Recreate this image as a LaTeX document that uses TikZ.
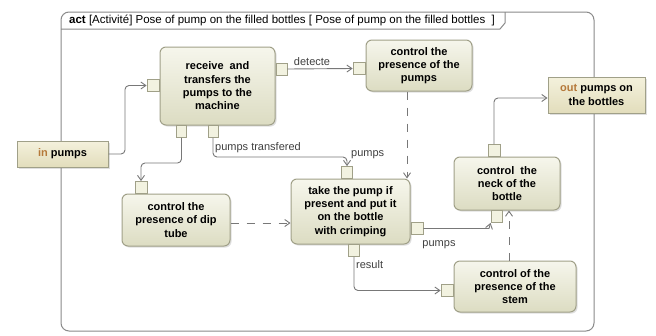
\documentclass[tikz,border=0pt]{standalone}
\usepackage{fontspec}
\setmainfont{Liberation Sans}
\usetikzlibrary{arrows.meta,shadows}
\definecolor{bord}{HTML}{A0A088}
\definecolor{nlight}{HTML}{F6F6EC}
\definecolor{ndark}{HTML}{DCDCC2}
\definecolor{plight}{HTML}{F2F2E0}
\definecolor{iolight}{HTML}{F4F1DC}
\definecolor{iodark}{HTML}{E2DDBC}
\definecolor{kw}{HTML}{B5793A}
\definecolor{wire}{HTML}{787878}
\definecolor{framec}{HTML}{8A8A8A}
\begin{document}
\begin{tikzpicture}[x=1pt,y=-1pt,
  actbox/.style={draw=bord,line width=1pt,rounded corners=6pt,top color=nlight,bottom color=ndark,
    drop shadow={shadow xshift=1.5pt,shadow yshift=-1.5pt,opacity=0.25},
    inner sep=0pt,align=center,font=\fontsize{11}{13.3}\selectfont\bfseries},
  iobox/.style={draw=bord,line width=1pt,top color=iolight,bottom color=iodark,
    drop shadow={shadow xshift=1.5pt,shadow yshift=-1.5pt,opacity=0.25},
    inner sep=0pt,align=center,font=\fontsize{11}{13.3}\selectfont\bfseries},
  pinbox/.style={draw=bord,line width=0.9pt,fill=plight,inner sep=0pt,minimum width=12pt,minimum height=12pt},
  flow/.style={draw=wire,line width=0.9pt,rounded corners=4pt,-{Straight Barb[length=5pt,width=7pt]}},
  dflow/.style={flow,dash pattern=on 8pt off 8pt},
  elabel/.style={font=\fontsize{11}{13}\selectfont,text=black!75,inner sep=1pt}]
\useasboundingbox (0,0) rectangle (656,335);
\fill[white] (0,0) rectangle (656,335);
% frame
\draw[framec,line width=1pt,rounded corners=8pt] (61,12) rectangle (594,331);
\draw[framec,line width=1pt] (61,29) -- (500,29) -- (505,23) -- (505,12);
\node[anchor=west,inner sep=0pt,font=\fontsize{11.5}{13}\selectfont] (title) at (69,20.5)
  {\textbf{act} [Activité] Pose of pump on the filled bottles [ Pose of pump on the filled bottles\ \ ]};
% action nodes
\node[iobox,minimum width=91pt,minimum height=26pt] (inp) at (62.5,154) {\textcolor{kw}{in} pumps};
\node[iobox,minimum width=97pt,minimum height=36pt] (outp) at (596.5,95) {\textcolor{kw}{out} pumps on\\the bottles};
\node[actbox,minimum width=115pt,minimum height=78pt] (recv) at (217.5,86) {receive\ \ and\\transfers the\\pumps to the\\machine};
\node[actbox,minimum width=106pt,minimum height=51pt] (ctrlp) at (419,65.5) {control the\\presence of the\\pumps};
\node[actbox,minimum width=106pt,minimum height=53pt] (neck) at (507,183.5) {control\ \ the\\neck of the\\bottle};
\node[actbox,minimum width=119pt,minimum height=65pt] (take) at (350.5,211.5) {take the pump if\\present and put it\\on the bottle\\with crimping};
\node[actbox,minimum width=108pt,minimum height=52pt] (dip) at (176,220) {control the\\presence of dip\\tube};
\node[actbox,minimum width=122pt,minimum height=51pt] (stem) at (515,286.5) {control of the\\presence of the\\stem};
% pins
\node[pinbox,anchor=east] (recvL) at (recv.west |- 0,85.5) {};
\node[pinbox,anchor=west,minimum width=11pt] (recvR) at (recv.east |- 0,69) {};
\node[pinbox,anchor=north,minimum width=10pt] (recvB1) at (181.5,125) {};
\node[pinbox,anchor=north,minimum width=10pt] (recvB2) at (213,125) {};
\node[pinbox,anchor=east] (ctrlpL) at (ctrlp.west |- 0,68.5) {};
\node[pinbox,anchor=south] (neckT) at (494,157) {};
\node[pinbox,anchor=north,minimum width=11pt] (neckB) at (496.5,210) {};
\node[pinbox,anchor=south,minimum width=11pt] (takeT) at (347,179) {};
\node[pinbox,anchor=west] (takeR) at (take.east |- 0,228.5) {};
\node[pinbox,anchor=north,minimum width=11pt] (takeB) at (354,244) {};
\node[pinbox,anchor=south] (dipT) at (141,194) {};
\node[pinbox,anchor=east] (stemL) at (stem.west |- 0,290.5) {};
% connectors
\draw[flow] (inp.east) -- (125,154) |- (recvL.west);
\draw[flow] (recvR.east) -- (ctrlpL.west);
\node[elabel,anchor=south] (lbdet) at (312,67) {detecte};
\draw[flow] (recvB2.south) -- (213,157) -| (takeT.north);
\node[elabel,anchor=south west] (lbtr) at (214,154) {pumps transfered};
\node[elabel,anchor=south west] (lbp1) at (350,160) {pumps};
\draw[flow] (recvB1.south) -- (181.5,163) -| (dipT.north);
\draw[dflow] (dip.east |- 0,223) -- (take.west |- 0,223);
\draw[dflow] ([xshift=-12pt]ctrlp.south) -- ([xshift=-12pt]ctrlp.south |- take.north);
\draw[flow,rounded corners=0pt] (takeR.east) -- (489,228.5) -- (neckB.south west);
\node[elabel,anchor=north] (lbp2) at (439,239) {pumps};
\draw[flow] (takeB.south) -- (354,290.5) -- (stemL.west);
\node[elabel,anchor=west] (lbres) at (355,265) {result};
\draw[dflow] ([xshift=-6pt]stem.north) -- ([xshift=-6pt]stem.north |- neck.south);
\coordinate (o1) at ([yshift=-3pt]outp.west);
\draw[flow] (neckT.north) |- (o1);
\end{tikzpicture}
\end{document}
